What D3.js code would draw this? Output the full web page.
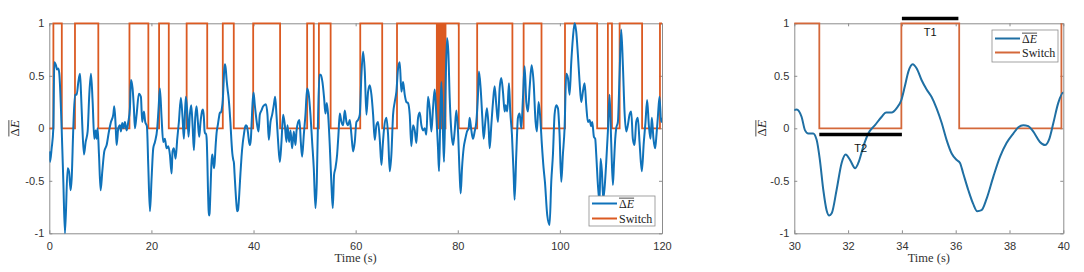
<!DOCTYPE html>
<html>
<head>
<meta charset="utf-8">
<script src="https://cdn.jsdelivr.net/npm/d3@7"></script>
<style>
body { margin: 0; background: #fff; }
text { font-family: "Liberation Sans", Arial, sans-serif; }
</style>
</head>
<body>
<svg id="chart" width="1084" height="272"></svg>
<script>
// time (s) and normalised energy difference
var timeS = [0, 0.14, 0.46, 0.79, 0.98, 1.31, 1.51, 1.77, 1.96, 2.42, 2.75, 3.07, 3.59, 3.86, 4.18, 4.38, 4.70, 5.03, 5.36, 5.68, 6.01, 6.2, 6.46, 6.79, 7.12, 7.51, 7.83, 8.16, 8.49, 8.81, 9.07, 9.27, 9.46, 9.73, 10.05, 10.38, 10.77, 11.23, 11.68, 12.07, 12.53, 12.73, 12.99, 13.18, 13.51, 13.84, 14.03, 14.29, 14.55, 14.81, 15.14, 15.47, 15.79, 15.99, 16.31, 16.57, 16.77, 17.1, 17.55, 17.94, 18.2, 18.53, 18.79, 19.12, 19.38, 19.71, 20.03, 20.36, 20.69, 21.14, 21.4, 21.66, 21.99, 22.31, 22.64, 22.97, 23.29, 23.62, 23.95, 24.14, 24.4, 24.73, 25.06, 25.38, 25.77, 26.1, 26.36, 26.56, 26.75, 27.01, 27.27, 27.53, 27.8, 28.06, 28.32, 28.58, 28.84, 29.1, 29.36, 29.62, 29.95,
  30.09, 30.27, 30.4, 30.52, 30.7, 30.83, 30.95, 31.08, 31.2, 31.3, 31.39, 31.57, 31.76, 31.91, 32.07, 32.26, 32.38, 32.57, 32.75, 33.0, 33.25, 33.41, 33.62, 33.8, 33.98, 34.11, 34.24, 34.4, 34.55, 34.73, 34.92, 35.1, 35.29, 35.48, 35.66, 35.85, 36.03, 36.16, 36.28, 36.47, 36.65, 36.8, 36.96, 37.15, 37.4, 37.65, 37.89, 38.14, 38.33, 38.51, 38.7, 38.88, 39.13, 39.32, 39.48, 39.63, 39.81, 40.0,
  40.25, 40.71, 40.97, 41.23, 41.56, 41.89, 42.41, 42.73, 42.99, 43.32, 43.65, 43.97, 44.23, 44.49, 44.82, 45.15, 45.47, 45.8, 46.13, 46.45, 46.65, 46.97, 47.24, 47.56, 47.89, 48.21, 48.41, 48.73, 48.99, 49.26, 49.52, 49.85, 50.17, 50.5, 50.82, 51.15, 51.48, 51.8, 52.13, 52.39, 52.65, 52.91, 53.17, 53.5, 53.82, 54.08, 54.35, 54.61, 54.93, 55.26, 55.52, 55.78, 56.04, 56.37, 56.63, 56.89, 57.22, 57.54, 57.87, 58.2, 58.52, 58.85, 59.17, 59.5, 59.83, 60.15, 60.48, 60.81, 61.13, 61.46, 61.79, 62.11, 62.44, 62.77, 63.09, 63.42, 63.74, 64.07, 64.39, 64.72, 65.05, 65.31, 65.57, 66.02, 66.35, 66.68, 67.0, 67.33, 67.65, 67.98, 68.31, 68.63, 68.96, 69.29, 69.61, 69.94, 70.26, 70.59, 70.91, 71.24, 71.57, 71.89, 72.22, 72.55,
  72.87, 73.2, 73.52, 73.85, 74.18, 74.5, 74.83, 75.15, 75.48, 75.8, 76.13, 76.33, 76.59, 76.79, 77.11, 77.31, 77.63, 77.9, 78.15, 78.42, 78.74, 79.07, 79.39, 79.72, 80.05, 80.37, 80.57, 80.83, 81.15, 81.48, 81.81, 82.13, 82.33, 82.66, 82.98, 83.31, 83.63, 83.96, 84.15, 84.48, 84.81, 85.07, 85.39, 85.72, 86.05, 86.25, 86.57, 86.9, 87.22, 87.55, 87.87, 88.2, 88.52, 88.85, 89.18, 89.37, 89.7, 90.02, 90.28, 90.61, 90.94, 91.13, 91.46, 91.79, 92.11, 92.44, 92.77, 93.09, 93.42, 93.75, 94.07, 94.46, 94.85, 95.24, 95.5, 95.83, 96.16, 96.48, 96.81, 97.07,
  97.53, 97.98, 98.31, 98.64, 98.96, 99.29, 99.62, 99.94, 100.27, 100.59, 100.92, 101.25, 101.57, 101.9, 102.23, 102.55, 102.88, 103.2, 103.53, 103.86, 104.18, 104.51, 104.84, 105.16, 105.49, 105.81, 106.14, 106.34, 106.66, 106.92, 107.12, 107.45, 107.77, 107.97, 108.23, 108.49, 108.75, 109.08, 109.4, 109.73, 110.05, 110.38, 110.58, 110.84, 111.03, 111.36, 111.69, 112.01, 112.34, 112.66, 112.99, 113.31, 113.64, 113.97, 114.29, 114.62, 114.95, 115.27, 115.6, 116.05, 116.44, 116.77, 117.09, 117.42, 117.75, 118.01, 118.33, 118.66, 118.92, 119.18, 119.51, 119.84, 120];
var deltaE = [-0.22, -0.32, -0.19, 0, 0.63, 0.60, 0.56, 0.57, 0.52, 0, -0.51, -1.0, -0.38, -0.41, -0.59, -0.48, 0, 0.32, 0.32, 0.44, 0.52, 0.35, 0.03, -0.25, -0.13, -0.03, 0.32, 0.52, 0.25, -0.1, -0.02, -0.1, 0, -0.25, -0.59, -0.41, -0.22, -0.16, -0.03, 0.06, 0.13, 0.21, 0.03, -0.16, 0, 0.03, -0.03, 0.05, 0, 0.06, -0.02, 0.06, 0.19, 0.46, 0.38, 0.19, 0, 0.13, 0.33, 0.3, 0.06, 0.16, 0.06, 0.02, -0.35, -0.79, -0.48, -0.19, -0.13, 0, 0.19, 0.38, 0.1, -0.13, -0.1, -0.19, -0.17, -0.25, -0.43, -0.22, -0.19, -0.29, -0.1, 0.06, 0.29, 0.1, -0.1, 0.13, 0.3, 0.16, -0.08, 0.13, 0.22, 0.03, -0.21, 0.1, 0.21, 0.06, -0.08, 0.06, 0.17,
  0.18, 0.11, -0.02, -0.05, -0.05, -0.11, -0.30, -0.59, -0.78, -0.83, -0.81, -0.59, -0.33, -0.25, -0.30, -0.38, -0.33, -0.17, -0.05, 0.03, 0.11, 0.15, 0.15, 0.19, 0.27, 0.40, 0.54, 0.61, 0.57, 0.46, 0.37, 0.30, 0.19, 0.05, -0.11, -0.24, -0.30, -0.33, -0.43, -0.59, -0.72, -0.79, -0.78, -0.67, -0.46, -0.27, -0.14, -0.05, 0.01, 0.03, 0.02, -0.03, -0.13, -0.16, -0.10, 0.05, 0.24, 0.34,
  0.22, 0.03, -0.03, 0.13, 0.17, 0.21, 0.23, 0.13, -0.11, 0.06, 0.13, 0.22, 0.3, 0.13, -0.13, -0.32, -0.13, 0.13, 0.03, -0.13, 0.03, -0.13, -0.02, -0.19, -0.03, -0.16, -0.03, 0.06, 0.08, -0.13, -0.27, -0.06, 0.13, 0.38, 0.32, 0.13, -0.13, -0.38, -0.76, -0.51, 0.13, 0.51, 0.51, 0.44, 0.29, 0.14, 0.24, 0.13, -0.16, -0.54, -0.76, -0.44, -0.38, -0.25, -0.06, 0.14, 0.06, 0.03, 0.17, 0.06, 0.03, 0.08, -0.06, -0.22, -0.13, 0.06, 0.08, 0.13, 0.51, 0.73, 0.54, 0.13, 0.35, 0.41, 0.32, 0.13, -0.11, 0.03, 0.06, -0.1, -0.35, -0.16, 0, 0.1, -0.06, -0.41, -0.25, 0.13, 0.25, 0.35, 0.57, 0.63, 0.35, 0.44, 0.32, 0.25, 0.24, 0.13, -0.17, 0.03, -0.02, -0.14, 0.1, 0.15,
  0.03, -0.02, 0, -0.06, 0.3, 0.19, -0.03, 0.19, 0.37, 0.13, -0.19, -0.41, 0.13, 0.44, -0.06, -0.32, 0.44, 0.86, 0.73, 0.29, -0.03, -0.16, -0.03, 0.17, -0.03, -0.44, -0.62, -0.38, -0.19, -0.1, -0.03, 0, 0.1, -0.02, -0.1, -0.03, 0.06, 0.32, 0.54, 0.38, 0.1, -0.1, 0.06, 0.19, 0, -0.19, 0.03, 0.25, 0.4, 0.22, 0.06, 0.38, 0.48, 0.35, 0.16, 0.22, 0.16, 0.43, 0.16, -0.06, -0.44, -0.68, -0.25, 0.1, 0.14, 0, 0.29, 0.59, 0.25, 0.16, 0.38, 0.6, 0.44, 0.06, -0.03, 0.25, 0.1, -0.16, -0.38, -0.51,
  -0.83, -0.92, -0.51, -0.25, 0.13, 0.22, 0.19, -0.06, -0.51, -0.25, 0, 0.52, 0.48, 0.32, 0.63, 0.86, 1.0, 0.92, 0.7, 0.44, 0.25, 0.35, 0.43, 0.22, 0.06, 0.08, 0.02, 0.06, -0.08, -0.1, -0.25, -0.54, -0.7, -0.29, -0.41, -0.67, -0.57, -0.32, -0.03, 0.32, -0.13, -0.54, -0.35, -0.1, 0, 0.06, 0.51, 0.94, 0.6, 0.16, -0.03, 0.03, 0.13, 0.16, -0.1, -0.16, 0.06, 0.1, -0.13, -0.41, -0.13, 0.06, 0.27, 0.03, -0.1, 0.1, -0.1, -0.19, -0.06, 0.1, 0.3, 0.06, 0.1];

// switch state starts at 0 and toggles at each of these times
var switchTimes = [0.8, 2.45, 5.03, 9.6, 15.7, 19.4, 21.5, 23.4, 26.9, 30.93, 33.98, 36.13, 39.93, 45.2, 50.5, 51.8, 52.8, 55.1, 60.9, 65.2, 68.1,
  75.9, 76.05, 76.2, 76.3, 76.45, 76.55, 76.7, 76.8, 76.95, 77.05, 77.2, 77.3, 77.45, 77.6,
  80.2, 83.8, 90.7, 92.9, 96.4, 101.0, 107.3, 109.4, 110.2, 111.7, 116.1, 119.6];

var xTicksLeft = [0, 20, 40, 60, 80, 100, 120];
var xTicksRight = [30, 32, 34, 36, 38, 40];
var yTicks = [-1, -0.5, 0, 0.5, 1];
var legendNames = ["\u0394E", "Switch"];
var markerNames = ["T1", "T2"];
var markerStart = [34, 30.93];
var markerEnd = [36.1, 34];
var markerLevel = [1.045, -0.06];

var svg = d3.select("#chart");
svg.append("rect").attr("width", 1084).attr("height", 272).attr("fill", "#fff");

var energy = timeS.map(function(t, i){ return {t: t, v: deltaE[i]}; });
var sw = [{t: 0, v: 0}];
var level = 0;
switchTimes.forEach(function(t){ level = 1 - level; sw.push({t: t, v: level}); });
sw.push({t: 120, v: level});

var axisColor = "#8c8c8c";

function overlineLabel(g, x, y, size, anchor)
{
    var t = g.append("text").attr("x", x).attr("y", y)
        .attr("text-anchor", anchor)
        .style("font-family", "'Liberation Serif','DejaVu Serif',serif")
        .style("font-size", size + "px").attr("fill", "#222");
    t.append("tspan").text("\u0394");
    t.append("tspan").style("font-style", "italic").text("E");
    var w = t.node().getComputedTextLength();
    var x0 = anchor == "middle" ? x - w / 2 : x;
    g.append("line").attr("x1", x0).attr("x2", x0 + w)
        .attr("y1", y - size * 0.78).attr("y2", y - size * 0.78)
        .attr("stroke", "#222").attr("stroke-width", 0.8);
}

function drawPanel(p)
{
    var x = d3.scaleLinear().domain(p.domain).range([p.left, p.right]);
    var y = d3.scaleLinear().domain([-1, 1]).range([233.3, 23.3]);
    var g = svg.append("g");

    svg.append("clipPath").attr("id", "clip" + p.id).append("rect")
        .attr("x", p.left).attr("y", y(1) - 2)
        .attr("width", p.right - p.left).attr("height", y(-1) - y(1) + 4);

    var fmt = function(d){ return String(d); };

    var bottom = g.append("g").attr("transform", "translate(0," + y(-1) + ")")
        .call(d3.axisBottom(x).tickValues(p.ticks).tickSize(-3).tickSizeOuter(0).tickPadding(9).tickFormat(fmt));
    var top = g.append("g").attr("transform", "translate(0," + y(1) + ")")
        .call(d3.axisTop(x).tickValues(p.ticks).tickSize(-3).tickSizeOuter(0).tickFormat(""));
    var left = g.append("g").attr("transform", "translate(" + p.left + ",0)")
        .call(d3.axisLeft(y).tickValues(yTicks).tickSize(-3).tickSizeOuter(0).tickPadding(5).tickFormat(fmt));
    var right = g.append("g").attr("transform", "translate(" + p.right + ",0)")
        .call(d3.axisRight(y).tickValues(yTicks).tickSize(-3).tickSizeOuter(0).tickFormat(""));

    [bottom, top, left, right].forEach(function(a){
        a.select(".domain").attr("stroke", axisColor).attr("stroke-width", 1);
        a.selectAll(".tick line").attr("stroke", axisColor);
        a.selectAll(".tick text").attr("fill", "#333").style("font-size", "11px")
            .style("font-family", "'Liberation Sans',Arial,sans-serif");
    });

    g.append("text").attr("x", (p.left + p.right) / 2).attr("y", 262)
        .attr("text-anchor", "middle")
        .style("font-family", "'Liberation Serif','DejaVu Serif',serif")
        .style("font-size", "12.5px").attr("fill", "#333")
        .text("Time (s)");

    var yl = g.append("g").attr("transform", "translate(" + p.ylabelX + "," + y(0) + ") rotate(-90)");
    overlineLabel(yl, 0, 0, 13, "middle");

    var data = g.append("g").attr("clip-path", "url(#clip" + p.id + ")");
    var pts = energy.filter(function(d){ return d.t >= p.domain[0] - 1 && d.t <= p.domain[1] + 1; });
    var swPts = sw.filter(function(d){ return d.t <= p.domain[1] + 1; });

    data.append("path").datum(swPts)
        .attr("d", d3.line().x(function(d){ return x(d.t); }).y(function(d){ return y(d.v); }).curve(d3.curveStepAfter))
        .attr("fill", "none").attr("stroke", p.orange).attr("stroke-width", 1.8);

    data.append("path").datum(pts)
        .attr("d", d3.line().x(function(d){ return x(d.t); }).y(function(d){ return y(d.v); }).curve(d3.curveMonotoneX))
        .attr("fill", "none").attr("stroke", p.blue).attr("stroke-width", 2)
        .attr("stroke-linejoin", "round");

    // legend
    var lg = g.append("g");
    lg.append("rect").attr("x", p.legend[0]).attr("y", p.legend[1])
        .attr("width", 66).attr("height", p.legend[2])
        .attr("fill", "#fff").attr("stroke", axisColor).attr("stroke-width", 0.8);
    var colors = [p.blue, p.orange];
    legendNames.forEach(function(name, i){
        var ry = p.legend[1] + p.legend[3] + i * p.legend[4];
        lg.append("line").attr("x1", p.legend[0] + 3).attr("x2", p.legend[0] + 28)
            .attr("y1", ry).attr("y2", ry)
            .attr("stroke", colors[i]).attr("stroke-width", 2);
        if (i == 0) {
            overlineLabel(lg, p.legend[0] + 30, ry + 4, 12, "start");
        } else {
            lg.append("text").attr("x", p.legend[0] + 30).attr("y", ry + 4)
                .style("font-family", "'Liberation Serif','DejaVu Serif',serif")
                .style("font-size", "12px").attr("fill", "#222").text(name);
        }
    });

    if (p.markers) {
        markerNames.forEach(function(name, i){
            g.append("line")
                .attr("x1", x(markerStart[i])).attr("x2", x(markerEnd[i]))
                .attr("y1", y(markerLevel[i])).attr("y2", y(markerLevel[i]))
                .attr("stroke", "#000").attr("stroke-width", 3.5);
            var mid = (markerStart[i] + markerEnd[i]) / 2;
            g.append("text").attr("x", x(mid)).attr("y", y(markerLevel[i]) + 17)
                .attr("text-anchor", "middle").style("font-size", "11px")
                .attr("fill", "#111").text(name);
        });
    }
}

drawPanel({id: "L", domain: [0, 120], left: 49.3, right: 662, ticks: xTicksLeft, ylabelX: 19,
    blue: "#0f72ba", orange: "#db5a22", legend: [589, 196, 30, 7.5, 15], markers: false});
drawPanel({id: "R", domain: [30, 40], left: 794.3, right: 1063.3, ticks: xTicksRight, ylabelX: 766,
    blue: "#1f6fa3", orange: "#d4683a", legend: [992, 30, 32, 8.5, 14], markers: true});
</script>
</body>
</html>
